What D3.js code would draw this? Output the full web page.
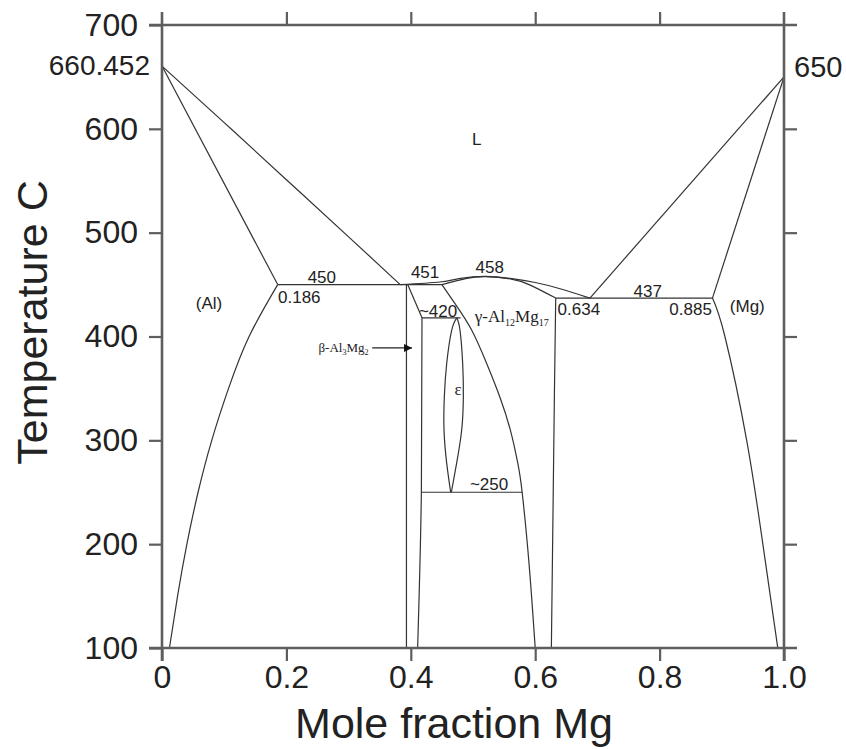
<!DOCTYPE html>
<html>
<head>
<meta charset="utf-8">
<script src="https://cdn.jsdelivr.net/npm/d3@7"></script>
<style>
  html, body { margin: 0; padding: 0; background: #fff; }
  svg { display: block; font-family: "Liberation Sans", Arial, sans-serif; }
  .phase { fill: none; stroke: #333; stroke-width: 1.2; }
  .note { font-size: 17px; fill: #222; }
  .serif { font-family: "Liberation Serif", "Times New Roman", serif; fill: #222; }
</style>
</head>
<body>
<div id="chart"></div>
<script>
const xTicks = [0, 0.2, 0.4, 0.6, 0.8, 1.0];
const xTickLabels = ['0', '0.2', '0.4', '0.6', '0.8', '1.0'];
const yTicks = [100, 200, 300, 400, 500, 600, 700];

const liquidusAl = [[0, 660.452], [0.1, 606], [0.2, 551], [0.3, 496], [0.383, 450]];
const solidusAl = [[0, 660.452], [0.186, 450]];
const solvusAl = [[0.186, 450], [0.14, 400], [0.107, 350], [0.08, 300], [0.058, 250], [0.04, 200], [0.025, 150], [0.012, 100]];
const eutectic450 = [[0.186, 450], [0.45, 450]];

const betaLeft = [[0.393, 450], [0.393, 100]];
const betaTop = [[0.395, 450], [0.418, 418]];
const betaRight = [[0.418, 418], [0.417, 250], [0.411, 100]];
const line420 = [[0.418, 418], [0.48, 418]];
const line250 = [[0.417, 250], [0.579, 250]];

const epsLeft = [[0.474, 418], [0.4657, 406], [0.4577, 374], [0.4539, 342], [0.4534, 310], [0.4577, 278], [0.4641, 250]];
const epsRight = [[0.474, 418], [0.4791, 406], [0.4834, 374], [0.4845, 342], [0.4818, 310], [0.4737, 278], [0.4652, 250]];

const gammaLeft = [[0.45, 450], [0.473, 430], [0.498, 406], [0.522, 374], [0.543, 342], [0.56, 310], [0.572, 278], [0.579, 250], [0.59, 182], [0.6, 100]];
const gammaRight = [[0.633, 437], [0.631, 350], [0.629, 250], [0.626, 100]];
const gammaLiquidus = [[0.383, 450], [0.447, 452.5], [0.48, 456], [0.52, 458], [0.56, 456], [0.6, 452], [0.64, 446], [0.688, 437]];
const gammaSolidus = [[0.45, 450], [0.49, 456], [0.52, 457.6], [0.56, 455.5], [0.592, 449.5], [0.633, 437]];

const eutectic437 = [[0.633, 437], [0.885, 437]];
const liquidusMg = [[1, 650], [0.688, 437]];
const solidusMg = [[1, 650], [0.885, 437]];
const solvusMg = [[0.885, 437], [0.905, 400], [0.94, 300], [0.966, 200], [0.99, 100]];

const straightLines = [solidusAl, eutectic450, betaLeft, betaTop, line420, line250, eutectic437, liquidusMg, solidusMg];
const curvedLines = [liquidusAl, solvusAl, betaRight, epsLeft, epsRight, gammaLeft, gammaRight, gammaLiquidus, gammaSolidus, solvusMg];

// annotations: [text, x, T, anchor]
const notes = [
  ['L', 0.506, 584, 'middle'],
  ['(Al)', 0.0756, 426.5, 'middle'],
  ['450', 0.257, 451.5, 'middle'],
  ['0.186', 0.1865, 432, 'start'],
  ['451', 0.423, 456.4, 'middle'],
  ['458', 0.527, 461.2, 'middle'],
  ['~420', 0.413, 418.5, 'start'],
  ['0.634', 0.636, 420.7, 'start'],
  ['437', 0.781, 438.3, 'middle'],
  ['0.885', 0.884, 420.7, 'end'],
  ['(Mg)', 0.941, 423.6, 'middle'],
  ['~250', 0.495, 252.5, 'start']
];

// ---- layout ----
const W = 846, H = 749;
const x = d3.scaleLinear().domain([0, 1]).range([162, 784]);
const y = d3.scaleLinear().domain([100, 700]).range([648, 25]);
const tick = 13;

const svg = d3.select('#chart').append('svg')
  .attr('width', W).attr('height', H);

const line = d3.line().x(d => x(d[0])).y(d => y(d[1]));
const curve = d3.line().x(d => x(d[0])).y(d => y(d[1])).curve(d3.curveNatural);

svg.append('g').selectAll('path').data(straightLines).join('path')
  .attr('class', 'phase').attr('d', line);
svg.append('g').selectAll('path').data(curvedLines).join('path')
  .attr('class', 'phase').attr('d', curve);

// axes
const axisColor = '#5e5e5e';
function styleAxis(g) {
  g.select('.domain').remove();
  g.selectAll('.tick line').attr('stroke', axisColor).attr('stroke-width', 2.2);
  g.selectAll('.tick text').attr('fill', '#222');
}

svg.append('g').attr('transform', `translate(${x(0)},0)`)
  .call(d3.axisLeft(y).tickValues(yTicks).tickSize(tick).tickPadding(11).tickFormat(d3.format('d')))
  .call(styleAxis)
  .call(g => g.selectAll('.tick text').attr('font-size', 32).attr('font-family', 'Liberation Sans, Arial, sans-serif'));

svg.append('g').attr('transform', `translate(0,${y(100)})`)
  .call(d3.axisBottom(x).tickValues(xTicks).tickSize(tick).tickPadding(4).tickFormat((d, i) => xTickLabels[i]))
  .call(styleAxis)
  .call(g => g.selectAll('.tick text').attr('font-size', 32).attr('font-family', 'Liberation Sans, Arial, sans-serif'));

svg.append('g').attr('transform', `translate(0,${y(700)})`)
  .call(d3.axisTop(x).tickValues(xTicks.slice(1, -1)).tickSize(tick).tickFormat(''))
  .call(styleAxis);

svg.append('g').attr('transform', `translate(${x(1)},0)`)
  .call(d3.axisRight(y).tickValues(yTicks.slice(1, -1)).tickSize(tick).tickFormat(''))
  .call(styleAxis);

// frame, each side running past the corners by a tick length
const frame = svg.append('g').attr('stroke', axisColor).attr('stroke-width', 2.6);
frame.append('line').attr('x1', x(0)).attr('x2', x(0)).attr('y1', y(700) - tick).attr('y2', y(100) + tick);
frame.append('line').attr('x1', x(1)).attr('x2', x(1)).attr('y1', y(700) - tick).attr('y2', y(100) + tick);
frame.append('line').attr('x1', x(0) - tick).attr('x2', x(1) + tick).attr('y1', y(700)).attr('y2', y(700));
frame.append('line').attr('x1', x(0) - tick).attr('x2', x(1) + tick).attr('y1', y(100)).attr('y2', y(100));

// melting points of the pure metals
svg.append('text').attr('x', x(0) - 12).attr('y', y(660.452) + 9)
  .attr('text-anchor', 'end').attr('font-size', 28).attr('fill', '#222').text('660.452');
svg.append('text').attr('x', x(1) + 10).attr('y', y(650))
  .attr('font-size', 29).attr('fill', '#222').text('650');

// axis titles
svg.append('text').attr('x', 454).attr('y', 738)
  .attr('text-anchor', 'middle').attr('font-size', 43).attr('fill', '#222')
  .text('Mole fraction Mg');
svg.append('text').attr('transform', `translate(47,${(y(100) + y(700)) / 2 - 14}) rotate(-90)`)
  .attr('text-anchor', 'middle').attr('font-size', 43).attr('fill', '#222')
  .text('Temperature C');

// region / point labels
svg.append('g').selectAll('text').data(notes).join('text')
  .attr('class', 'note')
  .attr('x', d => x(d[1])).attr('y', d => y(d[2]))
  .attr('text-anchor', d => d[3])
  .text(d => d[0]);

// phase names with subscripts
const gamma = svg.append('text').attr('class', 'serif').attr('font-size', 17)
  .attr('x', x(0.503)).attr('y', y(414));
gamma.append('tspan').text('γ-Al');
gamma.append('tspan').attr('font-size', 10).attr('dy', 4).text('12');
gamma.append('tspan').attr('dy', -4).text('Mg');
gamma.append('tspan').attr('font-size', 10).attr('dy', 4).text('17');

const beta = svg.append('text').attr('class', 'serif').attr('font-size', 13)
  .attr('x', x(0.332)).attr('y', y(385)).attr('text-anchor', 'end');
beta.append('tspan').text('β-Al');
beta.append('tspan').attr('font-size', 8).attr('dy', 3).text('3');
beta.append('tspan').attr('dy', -3).text('Mg');
beta.append('tspan').attr('font-size', 8).attr('dy', 3).text('2');

svg.append('text').attr('class', 'serif').attr('font-size', 17)
  .attr('x', x(0.476)).attr('y', y(344)).attr('text-anchor', 'middle').text('ε');

// arrow to the β phase field
svg.append('defs').append('marker').attr('id', 'head')
  .attr('viewBox', '0 0 10 10').attr('refX', 10).attr('refY', 5)
  .attr('markerWidth', 10).attr('markerHeight', 8).attr('markerUnits', 'userSpaceOnUse')
  .attr('orient', 'auto')
  .append('path').attr('d', 'M0,0L10,5L0,10z').attr('fill', '#111');
svg.append('line')
  .attr('x1', x(0.338)).attr('x2', x(0.402))
  .attr('y1', y(389)).attr('y2', y(389))
  .attr('stroke', '#222').attr('stroke-width', 1.2)
  .attr('marker-end', 'url(#head)');
</script>
</body>
</html>
